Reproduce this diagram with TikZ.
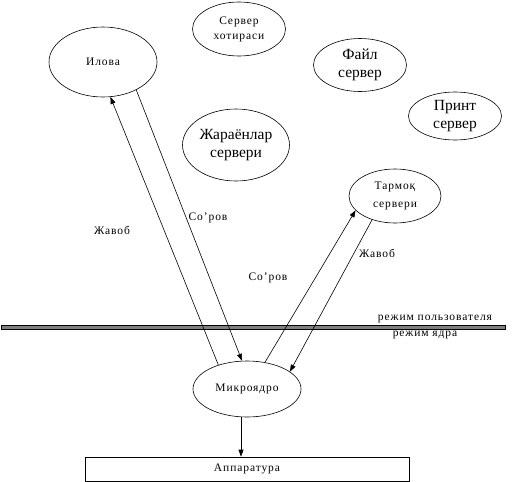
\documentclass[tikz,border=0pt]{standalone}
\usepackage{fontspec}
\setmainfont{Liberation Serif}
\newfontfamily\spaced[LetterSpace=8]{Liberation Serif}
\usetikzlibrary{shapes.geometric,arrows.meta,calc}
\tikzset{
  oval/.style={draw, ellipse, inner sep=0pt, line width=0.6pt, align=center},
  smalltxt/.style={font=\spaced\fontsize{11.5}{15}\selectfont},
  bigtxt/.style={font=\fontsize{15.5}{18}\selectfont},
  conn/.style={line width=0.6pt},
  arr/.style={conn, -{Triangle[length=7pt,width=5pt]}},
  lbl/.style={font=\spaced\fontsize{11.5}{13}\selectfont, inner sep=0pt}
}
\begin{document}
\begin{tikzpicture}[x=1pt,y=-1pt]
\useasboundingbox (0,0) rectangle (512,482);
% nodes
\node[oval, smalltxt, minimum width=108pt, minimum height=70pt] (ilova) at (103,62) {Илова};
\node[oval, smalltxt, minimum width=93pt, minimum height=54pt] (xot) at (239,29) {Сервер\\хотираси};
\node[oval, bigtxt, minimum width=107pt, minimum height=72pt] (jar) at (236,145) {Жараёнлар\\сервери};
\node[oval, bigtxt, minimum width=93pt, minimum height=53pt] (fayl) at (360,65) {Файл\\сервер};
\node[oval, bigtxt, minimum width=93pt, minimum height=48pt] (print) at (455,116) {Принт\\сервер};
\node[oval, font=\spaced\fontsize{11.5}{18}\selectfont, minimum width=92pt, minimum height=54pt] (tarmoq) at (395,196) {Тармоқ\\сервери};
\node[oval, smalltxt, minimum width=108pt, minimum height=56pt] (mk) at (247,389) {Микроядро};
\node[draw, line width=0.6pt, minimum width=324pt, minimum height=24pt, inner sep=0pt, smalltxt] (hw) at (247,469) {Аппаратура};
% mode bar
\node[draw, fill=gray, line width=0.6pt, minimum width=504pt, minimum height=4pt, inner sep=0pt] (bar) at (253,327) {};
\node[lbl] (user) at (435,319) {режим пользователя};
\node[lbl] (kern) at (425,335) {режим ядра};
% connectors
\draw[arr] (mk.140) -- (ilova.-78);
\draw[arr] (ilova.-40) -- (mk.100);
\draw[arr] (mk.56) -- (tarmoq.200);
\draw[arr] (tarmoq.226) -- (mk.22);
\draw[arr] (mk.258) -- (mk.258 |- hw.north);
% labels
\node[lbl] (j1) at (112,230) {Жавоб};
\node[lbl] (s1) at (208,218) {Со’ров};
\node[lbl] (s2) at (268,278) {Со’ров};
\node[lbl] (j2) at (377,253) {Жавоб};
\end{tikzpicture}
\end{document}
